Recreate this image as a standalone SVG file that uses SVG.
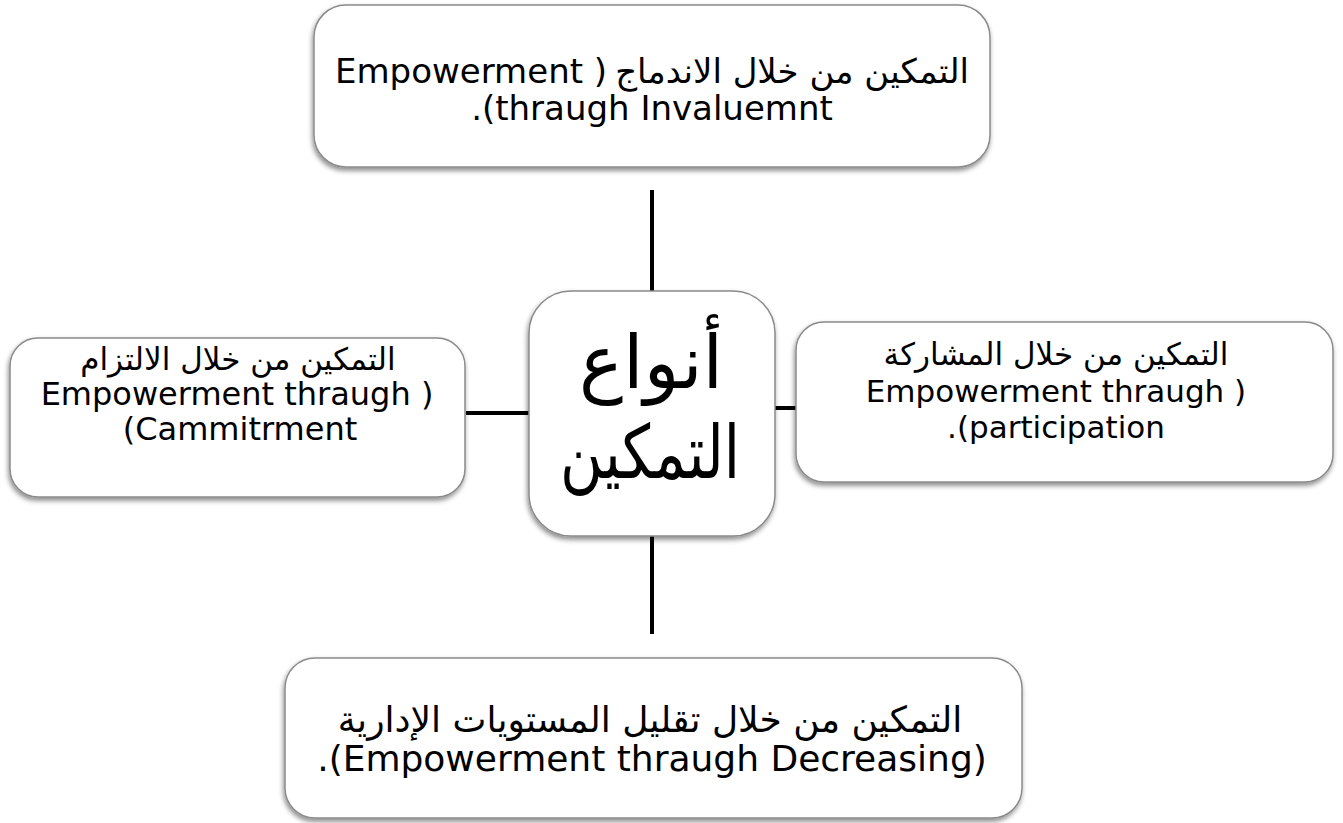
<svg xmlns="http://www.w3.org/2000/svg" width="1343" height="823" viewBox="0 0 1343 823">
<defs>
<filter id="sh" x="-10%" y="-10%" width="120%" height="130%">
<feDropShadow dx="-1" dy="3" stdDeviation="2.5" flood-color="#000" flood-opacity="0.45"/>
</filter>
<style>
.box{fill:#fff;stroke:#8a8a8a;stroke-width:1.5;filter:url(#sh)}
.t{font-family:"DejaVu Sans",sans-serif;fill:#000}
.mid{text-anchor:middle}
.lat{direction:ltr;unicode-bidi:bidi-override}
.s{font-size:31px}
.s2{font-size:32px}
.m{font-size:34px}
.b{font-size:36px}
.c{font-size:74px}
.ln{stroke:#000;stroke-width:4;fill:none}
</style>
</defs>
<rect width="1343" height="823" fill="#fff"/>
<g id="connectors">
<line class="ln" x1="652" y1="190" x2="652" y2="291"/>
<line class="ln" x1="652" y1="536" x2="652" y2="634"/>
<line class="ln" x1="466" y1="413" x2="529" y2="413"/>
<line class="ln" x1="775" y1="408" x2="796" y2="408"/>
</g>
<g id="node-top">
<rect class="box" x="314" y="5" width="676" height="162" rx="32"/>
<text class="t m lat" x="335" y="83">Empowerment )</text>
<text class="t m" x="969" y="83" text-anchor="end">التمكين من خلال الاندماج</text>
<text class="t m mid lat" x="652" y="120">.(thraugh Invaluemnt</text>
</g>
<g id="node-left">
<rect class="box" x="10" y="338" width="455" height="159" rx="28"/>
<text class="t s mid" x="238" y="370">التمكين من خلال الالتزام</text>
<text class="t s2 mid lat" x="237" y="405">Empowerment thraugh )</text>
<text class="t s2 mid lat" x="240" y="440">(Cammitrment</text>
</g>
<g id="node-center">
<rect class="box" x="529" y="291" width="246" height="245" rx="42"/>
<text class="t c mid" x="651" y="388">أنواع</text>
<text class="t c mid" x="650" y="478" textLength="180" lengthAdjust="spacingAndGlyphs">التمكين</text>
</g>
<g id="node-right">
<rect class="box" x="796" y="322" width="537" height="160" rx="28"/>
<text class="t s mid" x="1056" y="365">التمكين من خلال المشاركة</text>
<text class="t s mid lat" x="1056" y="402">Empowerment thraugh )</text>
<text class="t s mid lat" x="1056" y="438">.(participation</text>
</g>
<g id="node-bottom">
<rect class="box" x="285" y="658" width="737" height="160" rx="30"/>
<text class="t b mid" x="650" y="732">التمكين من خلال تقليل المستويات الإدارية</text>
<text class="t b mid lat" x="652" y="771">.(Empowerment thraugh Decreasing)</text>
</g>
</svg>
